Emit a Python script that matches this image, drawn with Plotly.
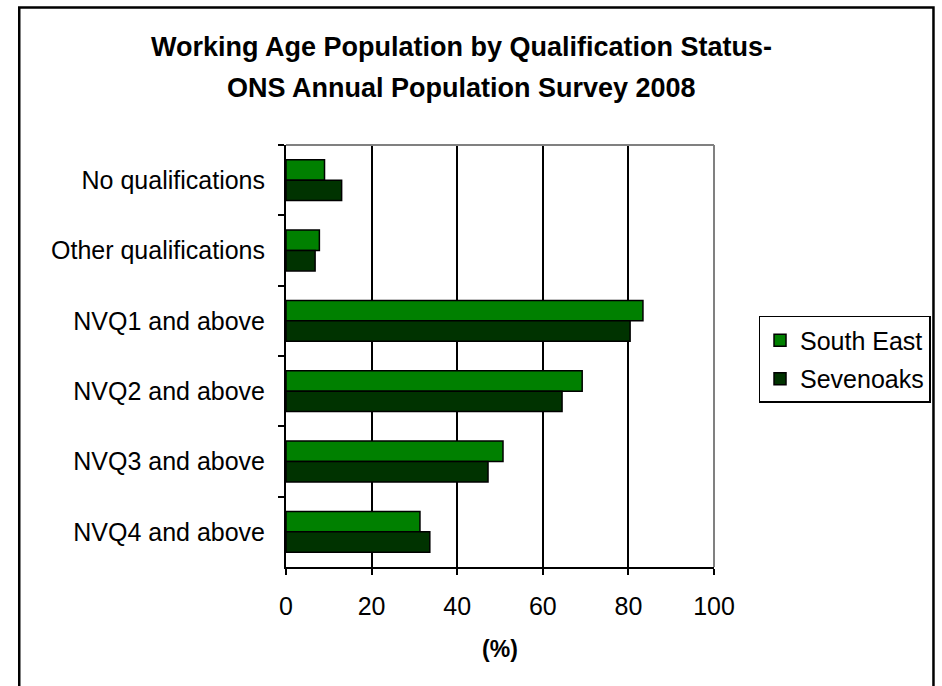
import plotly.graph_objects as go

categories = ["No qualifications", "Other qualifications", "NVQ1 and above",
              "NVQ2 and above", "NVQ3 and above", "NVQ4 and above"]
south_east = [9.0, 7.8, 83.4, 69.2, 50.7, 31.3]
sevenoaks = [13.0, 6.8, 80.4, 64.5, 47.2, 33.6]
x_ticks = [0, 20, 40, 60, 80, 100]

FONT = "Liberation Sans, Arial, sans-serif"

fig = go.Figure()
fig.add_trace(go.Bar(
    y=categories, x=south_east, name="South East", orientation="h",
    marker=dict(color="#008000", line=dict(color="black", width=1.5)),
    legendgroup="a",
))
fig.add_trace(go.Bar(
    y=categories, x=sevenoaks, name="Sevenoaks", orientation="h",
    marker=dict(color="#003300", line=dict(color="black", width=1.5)),
    legendgroup="b",
))

fig.update_layout(
    width=942, height=686,
    margin=dict(l=286, r=226, t=145, b=119),
    paper_bgcolor="white", plot_bgcolor="white",
    barmode="group", bargap=0.42, bargroupgap=0,
    font=dict(family=FONT, size=25, color="black"),
    showlegend=True,
    legend=dict(
        x=1.104, y=0.595, xanchor="left", yanchor="top",
        bordercolor="black", borderwidth=1.5, bgcolor="white",
        font=dict(size=25), traceorder="grouped", tracegroupgap=3,
        itemwidth=30,
    ),
    annotations=[
        dict(text="<b>Working Age Population by Qualification Status-</b>",
             xref="paper", yref="paper", x=0.41, y=(567 - 47) / 422,
             xanchor="center", yanchor="middle", showarrow=False,
             font=dict(size=27)),
        dict(text="<b>ONS Annual Population Survey 2008</b>",
             xref="paper", yref="paper", x=0.41, y=(567 - 88) / 422,
             xanchor="center", yanchor="middle", showarrow=False,
             font=dict(size=27)),
    ],
    shapes=[
        # outer chart frame
        dict(type="rect", xref="paper", yref="paper",
             x0=(18 - 286) / 430, x1=(936.5 - 286) / 430,
             y0=(567 - 700) / 422, y1=(567 - 7.5) / 422,
             line=dict(color="black", width=2.5), layer="below"),
        # plot area border (top and right)
        dict(type="line", xref="paper", yref="paper", x0=0, x1=1, y0=1, y1=1,
             line=dict(color="#808080", width=2)),
        dict(type="line", xref="paper", yref="paper", x0=1, x1=1, y0=0, y1=1,
             line=dict(color="#808080", width=2)),
    ],
)

fig.update_xaxes(
    range=[0, 100], tickvals=x_ticks, ticktext=[str(v) for v in x_ticks],
    showgrid=True, gridcolor="black", gridwidth=1.5,
    showline=True, linecolor="black", linewidth=2,
    ticks="outside", ticklen=6, tickwidth=2, tickcolor="black",
    ticklabelstandoff=10, zeroline=False,
    title=dict(text="<b>(%)</b>", font=dict(size=23), standoff=22),
)
fig.update_yaxes(
    autorange="reversed", type="category",
    showline=True, linecolor="black", linewidth=2,
    ticks="outside", ticklen=6, tickwidth=2, tickcolor="black",
    tickson="boundaries", ticklabelstandoff=14, showgrid=False,
)

fig.write_html("out.html")
